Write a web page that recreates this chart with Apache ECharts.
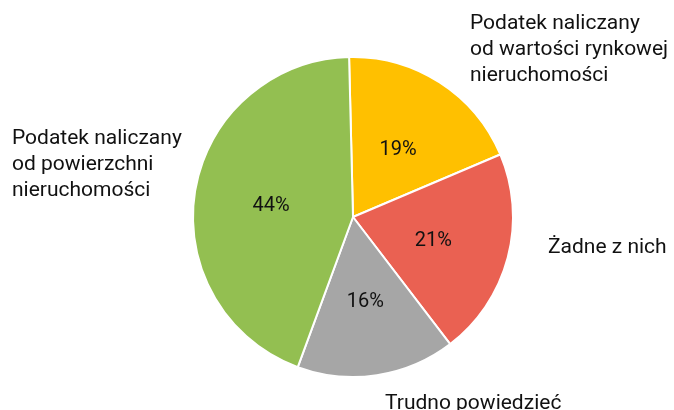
<!DOCTYPE html>
<html>
<head>
<meta charset="utf-8">
<script src="https://cdn.jsdelivr.net/npm/echarts@6/dist/echarts.min.js"></script>
<style>
  html, body { margin: 0; padding: 0; background: #fff; }
  #pie-chart { width: 674px; height: 410px; }
</style>
</head>
<body>
<div id="pie-chart"></div>
<script>
const categories = [
  'Podatek naliczany\nod wartości rynkowej\nnieruchomości',
  'Żadne z nich',
  'Trudno powiedzieć',
  'Podatek naliczany\nod powierzchni\nnieruchomości'
];
const values = [19, 21, 16, 44];
const colors = ['#FFC000', '#EA6152', '#A6A6A6', '#93BF51'];

// where the outside labels sit (top-left of each text block)
const labelPos = [
  [470, 11],
  [548, 235],
  [385, 391],
  [12, 126]
];

const datas = categories.map((name, i) => ({
  name: name,
  value: values[i],
  itemStyle: { color: colors[i] }
}));

var dom = document.getElementById('pie-chart');
var myChart = echarts.init(dom, null, { renderer: 'canvas' });

var option = {
  animation: false,
  textStyle: { fontFamily: 'Roboto' },
  series: [
    {
      name: 'Inner',
      type: 'pie',
      radius: 160,
      center: [353, 217],
      startAngle: 91.4,
      clockwise: true,
      data: datas,
      itemStyle: { borderColor: '#fff', borderWidth: 2 },
      label: {
        show: true,
        position: 'inner',
        formatter: '{c}%',
        color: '#111',
        fontSize: 20,
        fontFamily: 'Roboto'
      },
      labelLine: { show: false },
      labelLayout: { dy: 3 }
    },
    {
      name: 'Outer',
      type: 'pie',
      radius: 160,
      center: [353, 217],
      startAngle: 91.4,
      clockwise: true,
      silent: true,
      data: datas.map(d => ({ name: d.name, value: d.value })),
      itemStyle: { color: 'rgba(0,0,0,0)', borderWidth: 0 },
      label: {
        show: true,
        position: 'outside',
        formatter: '{b}',
        color: '#111',
        fontSize: 21,
        lineHeight: 26,
        overflow: 'none',
        fontFamily: 'Roboto'
      },
      labelLine: { show: false },
      labelLayout: function (params) {
        const p = labelPos[params.dataIndex];
        return { x: p[0], y: p[1], align: 'left', verticalAlign: 'top' };
      }
    }
  ]
};

myChart.setOption(option);
window.addEventListener('resize', myChart.resize);
</script>
</body>
</html>
